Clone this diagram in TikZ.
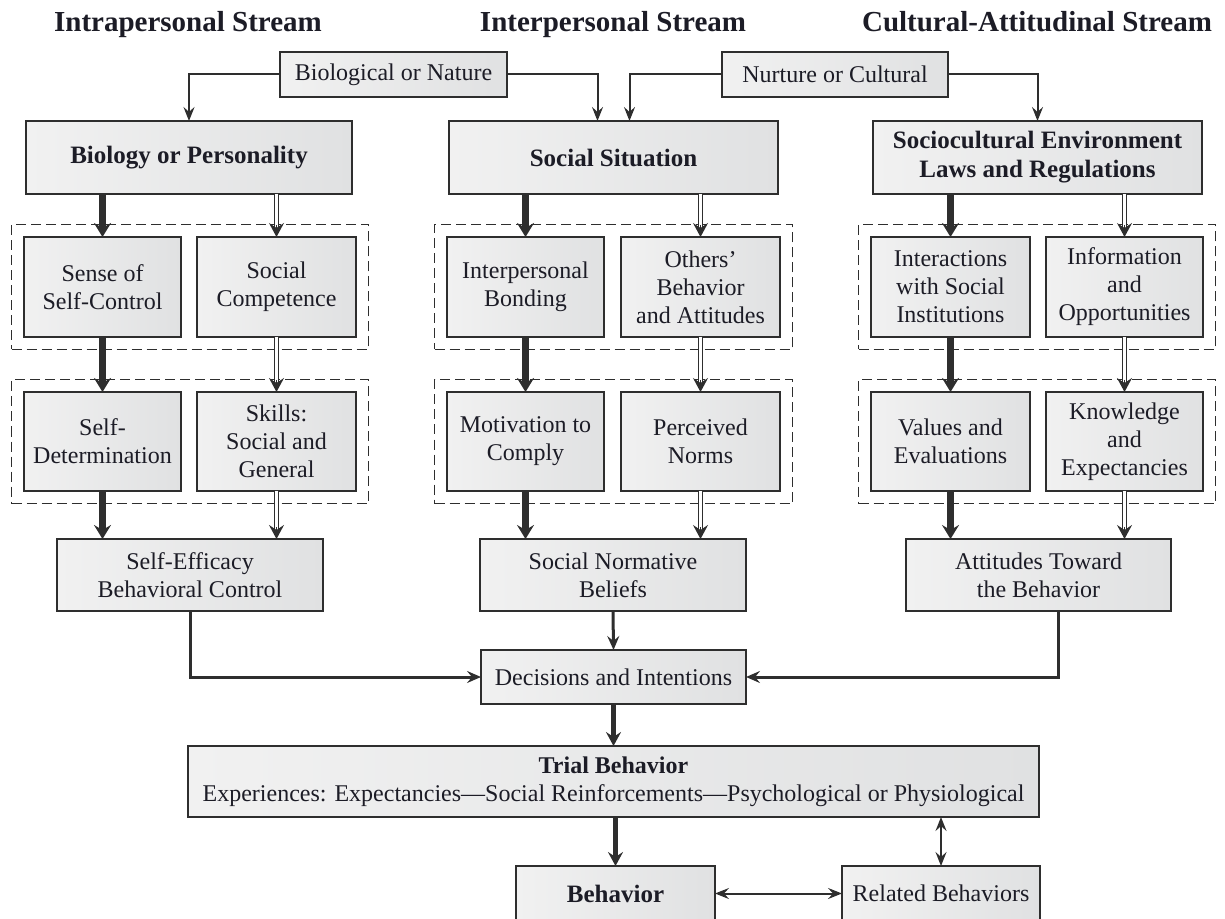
\documentclass[tikz,border=0pt]{standalone}
\usepackage{fontspec}
\setmainfont{Liberation Serif}
\usetikzlibrary{arrows.meta,fit}

\definecolor{boxlight}{HTML}{F1F1F1}
\definecolor{boxdark}{HTML}{E0E1E2}
\definecolor{edgegray}{HTML}{2E2E2E}
\definecolor{inkcol}{HTML}{1C1C26}

\tikzset{
  box/.style={draw=edgegray, line width=0.75pt, left color=boxlight, right color=boxdark,
    align=center, inner sep=1pt, outer sep=0pt, text=inkcol,
    font=\fontsize{12}{14}\selectfont},
  boldbox/.style={box, font=\fontsize{12.5}{14.5}\selectfont\bfseries},
  group/.style={draw=edgegray, line width=0.75pt, dash pattern=on 5pt off 2.5pt, inner sep=6.25pt},
  streamtitle/.style={font=\fontsize{14.5}{17}\selectfont\bfseries, text=inkcol, anchor=base},
  thinarrow/.style={draw=edgegray, line width=1pt, -{Stealth[length=7pt,width=5.5pt,inset=2.5pt]}},
  thinboth/.style={draw=edgegray, line width=1pt,
    {Stealth[length=7pt,width=5.5pt,inset=2.5pt]}-{Stealth[length=7pt,width=5.5pt,inset=2.5pt]}},
  midarrow/.style={draw=edgegray, line width=1.5pt, -{Stealth[length=7pt,width=6pt,inset=2.5pt]}},
  boldarrow/.style={draw=edgegray, line width=2.5pt, -{Stealth[length=7pt,width=7.5pt,inset=2.5pt]}},
  thickarrow/.style={draw=edgegray, line width=3.25pt, -{Stealth[length=7pt,width=8.5pt,inset=2.5pt]}},
  dblshaft/.style={draw=edgegray, line width=0.6pt, double=white, double distance=1.2pt, shorten >=4pt},
  dbltip/.style={draw=edgegray, line width=0.6pt, -{Stealth[length=7pt,width=7.5pt,inset=2.5pt]}},
}

% box given by its left, top, right and bottom edges
\newcommand\cornerbox[7][]{%
  \node[box,#1,minimum width={(#5-#3)*0.5pt},minimum height={(#6-#4)*0.5pt}]
    (#2) at ({(#3+#5)/2},{(#4+#6)/2}) {#7};}
% downward double-lined connector with a solid head
\newcommand\dblconn[2]{%
  \draw[dblshaft] (#1) -- (#2);
  \draw[dbltip] ([yshift=6pt]#2) -- (#2);}

\begin{document}
\begin{tikzpicture}[x=0.5pt,y=-0.5pt]
\useasboundingbox (0,0) rectangle (1225,919);

% stream headings
\node[streamtitle] (head1) at (188,32) {Intrapersonal Stream};
\node[streamtitle] (head2) at (613,32) {Interpersonal Stream};
\node[streamtitle] (head3) at (1037,32) {Cultural-Attitudinal Stream};

% sources
\cornerbox{bio}{280}{52}{507}{97}{Biological or Nature}
\cornerbox{nur}{722}{52}{948}{97}{Nurture or Cultural}

% first level
\cornerbox[boldbox]{bp}{26}{121}{352}{194}{Biology or Personality}
\cornerbox[boldbox]{ss}{449}{121}{778}{194}{Social Situation}
\cornerbox[boldbox]{sce}{873}{121}{1202}{194}{Sociocultural Environment\\Laws and Regulations}

% second level
\cornerbox{sc}{24}{237}{181}{337}{Sense of\\Self-Control}
\cornerbox{scomp}{197}{237}{356}{337}{Social\\Competence}
\cornerbox{ib}{447}{237}{604}{337}{Interpersonal\\Bonding}
\cornerbox{ob}{621}{237}{780}{337}{Others’\\Behavior\\and Attitudes}
\cornerbox{isi}{871}{237}{1030}{337}{Interactions\\with Social\\Institutions}
\cornerbox{io}{1046}{237}{1203}{337}{Information\\and\\Opportunities}

% third level
\cornerbox{sd}{24}{392}{181}{491}{Self-\\Determination}
\cornerbox{sk}{197}{392}{356}{491}{Skills:\\Social and\\General}
\cornerbox{mc}{447}{392}{604}{491}{Motivation to\\Comply}
\cornerbox{pn}{621}{392}{780}{491}{Perceived\\Norms}
\cornerbox{ve}{871}{392}{1030}{491}{Values and\\Evaluations}
\cornerbox{ke}{1046}{392}{1203}{491}{Knowledge\\and\\Expectancies}

% dashed groupings
\node[group, fit=(sc)(scomp)] (g1) {};
\node[group, fit=(sd)(sk)] (g2) {};
\node[group, fit=(ib)(ob)] (g3) {};
\node[group, fit=(mc)(pn)] (g4) {};
\node[group, fit=(isi)(io)] (g5) {};
\node[group, fit=(ve)(ke)] (g6) {};

% fourth level
\cornerbox{se}{57}{539}{323}{611}{Self-Efficacy\\Behavioral Control}
\cornerbox{snb}{480}{539}{746}{611}{Social Normative\\Beliefs}
\cornerbox{att}{906}{539}{1171}{611}{Attitudes Toward\\the Behavior}

% outcome chain
\cornerbox{dec}{481}{650}{746}{704}{Decisions and Intentions}
\cornerbox{trial}{188}{746}{1039}{817}{{\bfseries Trial Behavior}\\Experiences: Expectancies—Social Reinforcements—Psychological or Physiological}
\cornerbox[boldbox]{beh}{516}{866}{715}{921}{Behavior}
\cornerbox{rel}{842}{866}{1040}{921}{Related Behaviors}

% connectors from the sources
\draw[thinarrow] (bio.west) -| (bp.north);
\draw[thinarrow] (bio.east) -| ([xshift=-8pt]ss.north);
\draw[thinarrow] (nur.west) -| ([xshift=8pt]ss.north);
\draw[thinarrow] (nur.east) -| (sce.north);

% intrapersonal stream
\draw[thickarrow] (sc.north |- bp.south) -- (sc.north);
\dblconn{scomp.north |- bp.south}{scomp.north}
\draw[thickarrow] (sc.south) -- (sd.north);
\dblconn{scomp.south}{sk.north}
\draw[thickarrow] (sd.south) -- (sd.south |- se.north);
\dblconn{sk.south}{sk.south |- se.north}

% interpersonal stream
\draw[thickarrow] (ib.north |- ss.south) -- (ib.north);
\dblconn{ob.north |- ss.south}{ob.north}
\draw[thickarrow] (ib.south) -- (mc.north);
\dblconn{ob.south}{pn.north}
\draw[thickarrow] (mc.south) -- (mc.south |- snb.north);
\dblconn{pn.south}{pn.south |- snb.north}

% cultural-attitudinal stream
\draw[thickarrow] (isi.north |- sce.south) -- (isi.north);
\dblconn{io.north |- sce.south}{io.north}
\draw[thickarrow] (isi.south) -- (ve.north);
\dblconn{io.south}{ke.north}
\draw[thickarrow] (ve.south) -- (ve.south |- att.north);
\dblconn{ke.south}{ke.south |- att.north}

% convergence and outcomes
\draw[midarrow] (se.south) |- (dec.west);
\draw[midarrow] ([xshift=9.75pt]att.south) |- (dec.east);
\draw[midarrow] (snb.south) -- (dec.north);
\draw[boldarrow] (dec.south) -- (trial.north);
\draw[boldarrow] (beh.north |- trial.south) -- (beh.north);
\draw[thinboth] (rel.north) -- (rel.north |- trial.south);
\draw[thinboth] (beh.east) -- (rel.west);
\end{tikzpicture}
\end{document}
